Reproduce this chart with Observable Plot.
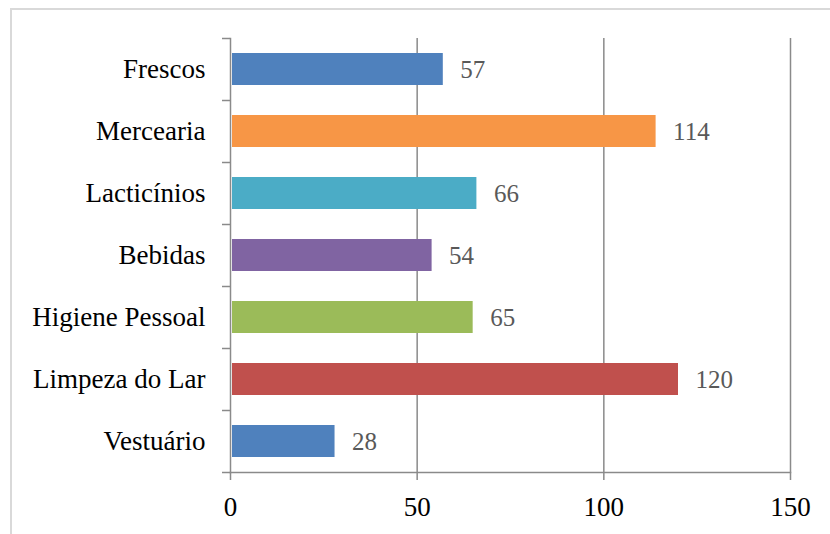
<!DOCTYPE html>
<html>
<head>
<meta charset="utf-8">
<script src="https://cdn.jsdelivr.net/npm/d3@7"></script>
<script src="https://cdn.jsdelivr.net/npm/@observablehq/plot@0.6"></script>
<style>
  body { margin: 0; background: #fff; }
  #wrap { position: relative; width: 830px; height: 534px; overflow: hidden; }
  #frame { position: absolute; left: 10px; top: 8px; width: 900px; height: 600px;
           border-top: 2px solid #d9d9d9; border-left: 2px solid #d9d9d9; pointer-events: none; }
  #wrap svg { position: absolute; left: 0; top: 0; }
</style>
</head>
<body>
<div id="wrap"><div id="frame"></div></div>
<script>
// Product categories and their counts
const categories = ["Frescos", "Mercearia", "Lacticínios", "Bebidas", "Higiene Pessoal", "Limpeza do Lar", "Vestuário"];
const values = [57, 114, 66, 54, 65, 120, 28];
const colors = ["#4F81BD", "#F79646", "#4BACC6", "#8064A2", "#9BBB59", "#C0504D", "#4F81BD"];
const xTicks = [0, 50, 100, 150];

const data = categories.map((c, i) => ({ category: c, value: values[i], color: colors[i] }));
const axisGray = "#8a8a8a";

const chart = Plot.plot({
  width: 830,
  height: 534,
  marginLeft: 230,
  marginRight: 40,
  marginTop: 38,
  marginBottom: 62,
  style: { fontFamily: "'Liberation Serif', serif", fontSize: "27px", background: "transparent", color: "black" },
  x: { domain: [0, 150], label: null },
  y: { domain: categories, paddingInner: 0.48, paddingOuter: 0.24, label: null },
  color: { type: "identity" },
  marks: [
    Plot.gridX(xTicks.slice(1), { stroke: axisGray, strokeOpacity: 1, strokeWidth: 1.5 }),
    Plot.barX(data, { y: "category", x: "value", fill: "color", insetLeft: 2 }),
    Plot.text(data, {
      y: "category", x: "value", text: d => String(d.value),
      textAnchor: "start", dx: 17, fill: "#595959", fontSize: 25
    }),
    Plot.frame({ anchor: "left", stroke: axisGray, strokeWidth: 1.5 }),
    Plot.frame({ anchor: "bottom", stroke: axisGray, strokeWidth: 1.5 }),
    // category labels
    Plot.axisY({ tickSize: 0, tickPadding: 25, fontSize: 27, fill: "black", label: null }),
    // tick marks on the band boundaries
    Plot.axisY({ tickSize: 8, dy: -31, text: null, stroke: axisGray, strokeWidth: 1.5, label: null }),
    Plot.axisY([categories[categories.length - 1]], { tickSize: 8, dy: 31, text: null, stroke: axisGray, strokeWidth: 1.5, label: null }),
    Plot.axisX(xTicks, { tickSize: 8, tickPadding: 16, stroke: axisGray, strokeWidth: 1.5, fill: "black", fontSize: 27, label: null })
  ]
});

document.getElementById("wrap").prepend(chart);
</script>
</body>
</html>
